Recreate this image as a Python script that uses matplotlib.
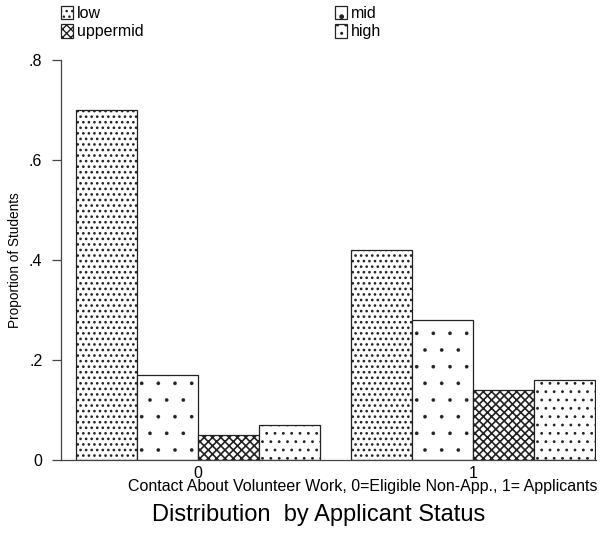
import matplotlib
matplotlib.use("Agg")
import matplotlib.pyplot as plt
from matplotlib.patches import Patch
import numpy as np

plt.rcParams["font.family"] = ["Liberation Sans", "DejaVu Sans"]

groups = ["0", "1"]
categories = ["low", "mid", "uppermid", "high"]
low = [0.70, 0.42]
mid = [0.17, 0.28]
uppermid = [0.05, 0.14]
high = [0.07, 0.16]
yticks = [0, 0.2, 0.4, 0.6, 0.8]
ytick_labels = ["0", ".2", ".4", ".6", ".8"]

series = {"low": low, "mid": mid, "uppermid": uppermid, "high": high}
hatches = {"low": "...", "mid": ".", "uppermid": "xxxx", "high": ".."}
hatch_lw = {"low": 1.1, "mid": 0.2, "uppermid": 1.2, "high": 0.8}

W, H = 608, 533
fig = plt.figure(figsize=(W / 100, H / 100), dpi=100)
ax = fig.add_axes([61 / W, 1 - 460 / H, (596 - 61) / W, (460 - 60) / H])

x = np.arange(len(groups))
width = 61 / 275
handles = {}
for i, name in enumerate(categories):
    with plt.rc_context({"hatch.linewidth": hatch_lw[name], "hatch.color": "black"}):
        ax.bar(x + (i - 1.5) * width, series[name], width=width,
               facecolor="white", edgecolor="#222222", linewidth=0.9,
               hatch=hatches[name])
        handles[name] = Patch(facecolor="white", edgecolor="#222222",
                              linewidth=0.9, hatch=hatches[name], label=name)

ax.set_xlim(-0.498, 1.447)
ax.set_ylim(0, 0.8)
ax.set_xticks(x)
ax.set_xticklabels(groups, fontsize=11.5)
ax.tick_params(axis="x", length=0, pad=4)
ax.set_yticks(yticks)
ax.set_yticklabels(ytick_labels, fontsize=11.5)
ax.tick_params(axis="y", length=6.5, width=0.9, color="#444444", pad=7)
for s in ["top", "right"]:
    ax.spines[s].set_visible(False)
for s in ["left", "bottom"]:
    ax.spines[s].set_color("#444444")
    ax.spines[s].set_linewidth(0.9)

fig.text(15 / W, 1 - 260 / H, "Proportion of Students", rotation=90,
         ha="center", va="center", fontsize=9.8)
fig.text(363 / W, 1 - 487 / H,
         "Contact About Volunteer Work, 0=Eligible Non-App., 1= Applicants",
         ha="center", va="center", fontsize=11.5)
fig.text(319 / W, 1 - 515 / H, "Distribution  by Applicant Status",
         ha="center", va="center", fontsize=17)

leg_kw = dict(loc="upper left", frameon=False, fontsize=11.5,
              handlelength=0.75, handleheight=0.9, handletextpad=0.25,
              labelspacing=0.2, borderpad=0, borderaxespad=0)
fig.legend([handles["low"], handles["uppermid"]], ["low", "uppermid"],
           bbox_to_anchor=(61 / W, 1 - 6 / H), **leg_kw)
fig.legend([handles["mid"], handles["high"]], ["mid", "high"],
           bbox_to_anchor=(335 / W, 1 - 6 / H), **leg_kw)

fig.savefig("out.png", dpi=100)
